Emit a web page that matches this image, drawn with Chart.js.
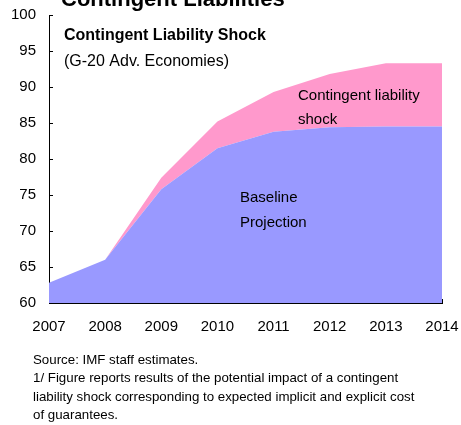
<!DOCTYPE html>
<html>
<head>
<meta charset="utf-8">
<script src="https://cdn.jsdelivr.net/npm/chart.js@4"></script>
<style>
  body { margin: 0; background: #fff; }
  #wrap { position: relative; width: 461px; height: 425px; }
</style>
</head>
<body>
<div id="wrap"><canvas id="chart"></canvas></div>
<script>
const years = ["2007", "2008", "2009", "2010", "2011", "2012", "2013", "2014"];
const baseline = [62.8, 66.0, 75.8, 81.5, 83.8, 84.4, 84.5, 84.5];
const withShock = [62.8, 66.0, 77.4, 85.2, 89.3, 91.8, 93.3, 93.3];
const yMin = 60;
const yMax = 100;
const yStep = 5;

const FONT = "Arial, 'Liberation Sans', sans-serif";

const notes = [
  "Source: IMF staff estimates.",
  "1/ Figure reports results of the potential impact of a contingent",
  "liability shock corresponding to expected implicit and explicit cost",
  "of guarantees.",
];

const textPlugin = {
  id: "texts",
  afterDraw(chart) {
    const ctx = chart.ctx;
    ctx.save();
    ctx.fillStyle = "#000";
    ctx.textAlign = "left";

    ctx.textBaseline = "alphabetic";
    ctx.font = `bold 22px ${FONT}`;
    ctx.fillText("Contingent Liabilities", 61, 6);

    ctx.textBaseline = "middle";
    ctx.font = `bold 16px ${FONT}`;
    ctx.fillText("Contingent Liability Shock", 64, 36);
    ctx.font = `16px ${FONT}`;
    ctx.fillText("(G-20 Adv. Economies)", 64, 62);

    ctx.font = `15px ${FONT}`;
    ctx.fillText("Contingent liability", 298, 96);
    ctx.fillText("shock", 298, 120);
    ctx.fillText("Baseline", 240, 198);
    ctx.fillText("Projection", 240, 223);

    ctx.font = `13.3px ${FONT}`;
    notes.forEach((t, i) => ctx.fillText(t, 33, 360 + i * 18.6));
    ctx.restore();
  },
};

new Chart(document.getElementById("chart"), {
  type: "line",
  data: {
    labels: years,
    datasets: [
      {
        label: "Baseline Projection",
        data: baseline,
        borderWidth: 0,
        pointRadius: 0,
        tension: 0,
        fill: "start",
        backgroundColor: "#9999ff",
        borderColor: "#9999ff",
      },
      {
        label: "Contingent liability shock",
        data: withShock,
        borderWidth: 0,
        pointRadius: 0,
        tension: 0,
        fill: "-1",
        backgroundColor: "#ff99cc",
        borderColor: "#ff99cc",
      },
    ],
  },
  options: {
    responsive: true,
    maintainAspectRatio: false,
    animation: false,
    layout: { padding: { left: 0, top: 15, right: 19, bottom: 82 } },
    plugins: { legend: { display: false }, tooltip: { enabled: false } },
    scales: {
      x: {
        offset: false,
        grid: { drawOnChartArea: false, tickLength: -4, color: "#000" },
        border: { color: "#000", width: 1 },
        ticks: { color: "#000", font: { family: FONT, size: 15 }, padding: 19, maxRotation: 0 },
        afterFit: (s) => {
          s.height = 40;
          s.paddingLeft = 0;
          s.paddingRight = 0;
        },
      },
      y: {
        min: yMin,
        max: yMax,
        grid: { drawOnChartArea: false, tickLength: -4, color: "#000" },
        border: { color: "#000", width: 1 },
        ticks: { stepSize: yStep, color: "#000", font: { family: FONT, size: 15 }, padding: 17 },
        afterFit: (s) => {
          s.width = 49;
          s.paddingTop = 0;
          s.paddingBottom = 0;
        },
      },
    },
  },
  plugins: [textPlugin],
});
</script>
</body>
</html>
